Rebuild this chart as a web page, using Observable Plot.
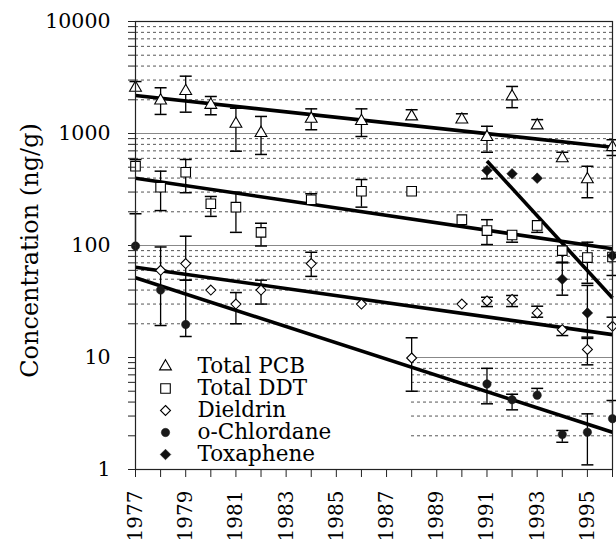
<!DOCTYPE html>
<html>
<head>
<meta charset="utf-8">
<script src="https://cdn.jsdelivr.net/npm/d3@7"></script>
<script src="https://cdn.jsdelivr.net/npm/@observablehq/plot@0.6"></script>
<style>
  html, body { margin: 0; padding: 0; background: white; }
</style>
</head>
<body>
<div id="chart"></div>
<script>
// ---------- data ----------
const seriesNames = ["Total PCB", "Total DDT", "Dieldrin", "o-Chlordane", "Toxaphene"];

const pcbYears  = [1977, 1978, 1979, 1980, 1981, 1982, 1984, 1986, 1988, 1990, 1991, 1992, 1993, 1994, 1995, 1996];
const pcbValues = [2560, 1970, 2390, 1800, 1220, 1010, 1350, 1290, 1420, 1330, 930, 2140, 1180, 600, 390, 755];
const pcbHigh   = [2910, 2560, 3250, 2140, 1680, 1420, 1660, 1660, 1630, 1500, 1160, 2630, 1330, 680, 510, 880];
const pcbLow    = [null, 1480, 1550, 1470, 695, 650, 1080, 940, null, null, 680, 1700, null, null, 267, 636];

const ddtYears  = [1977, 1978, 1979, 1980, 1981, 1982, 1984, 1986, 1988, 1990, 1991, 1992, 1993, 1994, 1995, 1996];
const ddtValues = [511, 331, 451, 236, 220, 131, 256, 305, 305, 170, 136, 124, 151, 90, 78, 79];
const ddtHigh   = [586, 461, 586, 274, 299, 158, 290, 388, null, null, 170, null, null, null, 107, null];
const ddtLow    = [null, 205, 296, 182, 131, 99, null, 220, null, null, 102, 107, 131, 70, 46, 54];

const dieYears  = [1978, 1979, 1980, 1981, 1982, 1984, 1986, 1988, 1990, 1991, 1992, 1993, 1994, 1995, 1996];
const dieValues = [60, 69, 40, 30, 40, 69, 30, 9.9, 30, 32, 33, 25, 17.7, 11.8, 19];
const dieHigh   = [97, 121, null, 38, 49, 87, null, 15, null, 34.5, 35.8, 28.7, 18.6, 14.8, 22.9];
const dieLow    = [null, 49, null, 20, 30, 53, null, 5, null, 28.5, 28.5, 22.9, 15.7, 8.6, null];

const chlYears  = [1977, 1978, 1979, 1991, 1992, 1993, 1994, 1995, 1996];
const chlValues = [99, 40, 19.7, 5.8, 4.2, 4.6, 2.05, 2.15, 2.84];
const chlHigh   = [192, 60, 49, 8, 4.7, 5.3, 2.23, 3.14, 4.13];
const chlLow    = [null, 19.3, 15.4, 3.86, 3.41, null, 1.75, 1.1, null];

const toxYears  = [1991, 1992, 1993, 1994, 1995, 1996];
const toxValues = [467, 437, 399, 50, 25, 81];
const toxHigh   = [null, null, null, 71, 44, null];
const toxLow    = [394, null, null, 36, 15.2, null];

// fitted trend lines: [startYear, startValue, endYear, endValue]
const trendPCB = [1977, 2184, 1996, 754];
const trendDDT = [1977, 399, 1996, 93.4];
const trendDie = [1977, 64, 1996, 16];
const trendChl = [1977, 51.5, 1996, 2.15];
const trendTox = [1991, 568, 1996, 34];

const yearTicks   = d3.range(1977, 1997);
const decadeTicks = [1, 10, 100, 1000, 10000];
const minorTicks  = [1, 10, 100, 1000].flatMap(d => [2, 3, 4, 5, 6, 7, 8, 9].map(k => k * d));

// ---------- build tables ----------
const rawSeries = [
  [pcbYears, pcbValues, pcbHigh, pcbLow],
  [ddtYears, ddtValues, ddtHigh, ddtLow],
  [dieYears, dieValues, dieHigh, dieLow],
  [chlYears, chlValues, chlHigh, chlLow],
  [toxYears, toxValues, toxHigh, toxLow]
];
const rows = rawSeries.flatMap(([ys, vs, hs, ls], i) =>
  ys.map((year, j) => ({series: seriesNames[i], year, value: vs[j], hi: hs[j], lo: ls[j]})));
const trends = [trendPCB, trendDDT, trendDie, trendChl, trendTox]
  .map(([x1, y1, x2, y2], i) => ({series: seriesNames[i], x1, y1, x2, y2}));

// ---------- styles ----------
const markerStyle = {
  "Total PCB":   {symbol: "triangle", r: 4.4, fill: "white", stroke: "black", strokeWidth: 1.1},
  "Total DDT":   {symbol: "square",   r: 5.4, fill: "white", stroke: "black", strokeWidth: 1.1},
  "Dieldrin":    {symbol: "diamond2", r: 4.5, fill: "white", stroke: "black", strokeWidth: 1.1},
  "o-Chlordane": {symbol: "circle",   r: 4.2, fill: "#1a1a1a", stroke: "#1a1a1a", strokeWidth: 0.5},
  "Toxaphene":   {symbol: "diamond2", r: 4.8, fill: "#111", stroke: "#111", strokeWidth: 0.5}
};
const capSymbol = {
  draw(ctx, size) { const r = Math.sqrt(size / Math.PI); ctx.moveTo(-r, 0); ctx.lineTo(r, 0); }
};
const font = "DejaVu Serif";

const marks = [
  Plot.gridY(minorTicks, {stroke: "#444", strokeOpacity: 0.9, strokeDasharray: "3,3", strokeWidth: 1}),
  Plot.gridY(decadeTicks, {stroke: "#888", strokeOpacity: 1, strokeWidth: 1}),
  // legend background box
  Plot.rect([0], {x1: 1977, x2: 1987.9, y1: 1, y2: 12, fill: "white"}),
  // trend lines
  Plot.link(trends, {x1: "x1", y1: "y1", x2: "x2", y2: "y2", stroke: "black", strokeWidth: 3.6}),
  // error bars
  Plot.ruleX(rows.filter(d => d.hi != null || d.lo != null), {
    x: "year", y1: d => d.lo ?? d.value, y2: d => d.hi ?? d.value, stroke: "black", strokeWidth: 1.3
  }),
  Plot.dot(rows.filter(d => d.hi != null), {x: "year", y: "hi", symbol: capSymbol, r: 6, stroke: "black", strokeWidth: 1.5}),
  Plot.dot(rows.filter(d => d.lo != null), {x: "year", y: "lo", symbol: capSymbol, r: 6, stroke: "black", strokeWidth: 1.5}),
  // markers
  ...seriesNames.map(name => Plot.dot(rows.filter(d => d.series === name), {x: "year", y: "value", ...markerStyle[name]})),
  Plot.frame({stroke: "#222", strokeWidth: 1.2}),
  // axes
  Plot.axisY(minorTicks.concat(decadeTicks), {
    tickSize: 7, tickPadding: 18, fontSize: 20.5, fontFamily: font, stroke: "#222",
    tickFormat: d => decadeTicks.includes(d) ? String(d) : ""
  }),
  Plot.axisX(yearTicks, {
    tickSize: 8, tickPadding: 13, fontSize: 20, fontFamily: font, tickRotate: -90, stroke: "#222",
    tickFormat: d => (d % 2 === 1 ? String(d) : "")
  }),
  Plot.text(["Concentration (ng/g)"], {
    frameAnchor: "left", dx: -105, dy: 5, rotate: -90, fontSize: 24, fontFamily: font, text: d => d,
    textAnchor: "middle", lineAnchor: "middle"
  }),
  // legend
  ...seriesNames.flatMap((name, i) => [
    Plot.dot([0], {frameAnchor: "bottom-left", dx: 30, dy: -103 + 22 * i, ...markerStyle[name]}),
    Plot.text([name], {frameAnchor: "bottom-left", dx: 62, dy: -103 + 22 * i, text: d => d,
      textAnchor: "start", lineAnchor: "middle", fontSize: 21.5, fontFamily: font})
  ])
];

const chart = Plot.plot({
  width: 616,
  height: 541,
  marginLeft: 135,
  marginRight: 4,
  marginTop: 21,
  marginBottom: 72,
  x: {domain: [1977, 1996]},
  y: {type: "log", domain: [1, 10000]},
  style: {fontFamily: font, background: "white", color: "black"},
  marks
});
document.getElementById("chart").appendChild(chart);
</script>
</body>
</html>
